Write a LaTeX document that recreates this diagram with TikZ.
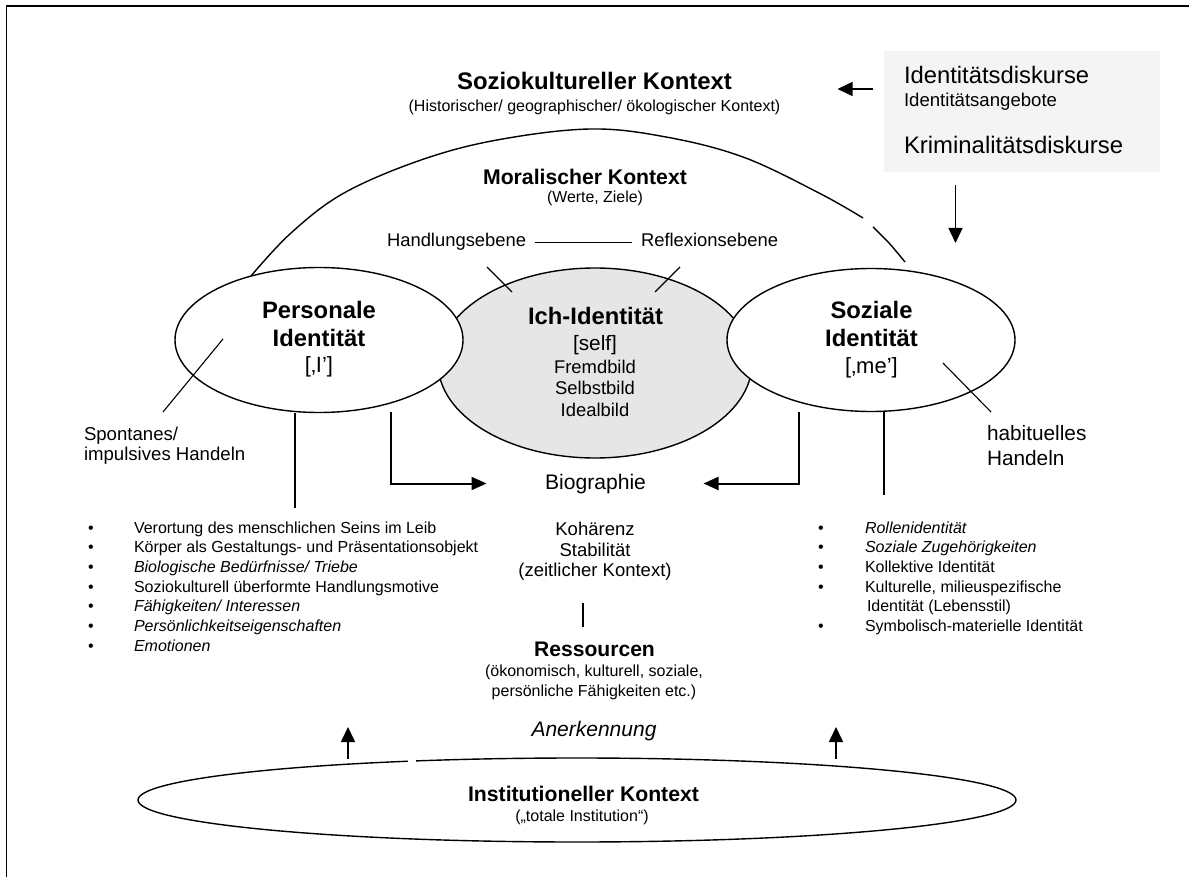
\documentclass[tikz,border=0pt]{standalone}
\usepackage{fontspec}
\setmainfont{Liberation Sans}
\usetikzlibrary{arrows.meta,shapes.geometric}
\definecolor{ichgray}{HTML}{E6E6E6}
\definecolor{boxgray}{HTML}{F4F4F4}
\newcommand\setfs[1]{\fontsize{#1pt}{#1pt}\selectfont}

\begin{document}
\begin{tikzpicture}[x=0.5pt,y=-0.5pt,
  lbl/.style={inner sep=0pt, outer sep=0pt, anchor=base},
  lblw/.style={inner sep=0pt, outer sep=0pt, anchor=base west},
  thinline/.style={line width=0.55pt},
  oval/.style={ellipse, draw, line width=0.7pt, inner sep=0pt, fill=white},
  elbow/.style={line width=1pt, -{Triangle[length=7.5pt,width=6.5pt]}},
  plainarrow/.style={line width=0.75pt, -{Triangle[length=7.5pt,width=7pt]}},
  bul/.style={inner sep=0pt, outer sep=0pt, anchor=base, font=\setfs{8}},
  item/.style={inner sep=0pt, outer sep=0pt, anchor=base west, font=\setfs{8}},
]
\useasboundingbox (0,0) rectangle (1189,877);

% frame (top and left edges)
\draw[line width=0.8pt] (6.5,877) -- (6.5,6) -- (1189,6);

% moral context arc
\draw[line width=0.7pt] plot[smooth, tension=0.6] coordinates
  {(251,276) (291,233) (344,193) (421,160) (497,140) (590,129) (666,137) (743,157) (819,193) (863,218)};
\draw[line width=0.7pt] plot[smooth, tension=0.6] coordinates {(873,227) (889,243) (905,262)};

% identity ellipses
\node[ellipse, draw, line width=0.7pt, fill=ichgray, inner sep=0pt,
      minimum width=157pt, minimum height=95pt] (ich) at (595,363) {};
\node[oval, minimum width=144pt, minimum height=72.5pt] (pers) at (319,340) {};
\node[oval, minimum width=144pt, minimum height=71.5pt] (soz) at (871,340) {};
\node[oval, fill=none, minimum width=439pt, minimum height=42pt] (inst) at (577,800) {};
\fill[white] (408,754) rectangle (416,768);

% sociocultural context
\node[lbl, font=\setfs{11.95}\bfseries] (sozio) at (594.5,89.5) {Soziokultureller Kontext};
\node[lbl, font=\setfs{8}] (soziosub) at (594.5,111.5) {(Historischer/ geographischer/ ökologischer Kontext)};

% discourse box
\node[fill=boxgray, inner sep=0pt, anchor=north west,
      minimum width=138pt, minimum height=60.5pt] (box) at (884,51) {};
\node[lblw, font=\setfs{11.9}] (disk1) at (904,84) {Identitätsdiskurse};
\node[lblw, font=\setfs{9.3}] (disk2) at (904,106.5) {Identitätsangebote};
\node[lblw, font=\setfs{11.95}] (disk3) at (904,154) {Kriminalitätsdiskurse};
\coordinate (aLs) at (873,89);
\coordinate (aLe) at (837.5,89);
\draw[plainarrow] (aLs) -- (aLe);
\coordinate (aDs) at (955.5,185);
\coordinate (aDe) at (955.5,243);
\draw[plainarrow] (aDs) -- (aDe);

% moral context
\node[lbl, font=\setfs{10.6}\bfseries] (moral) at (585,185) {Moralischer Kontext};
\node[lbl, font=\setfs{7.95}] (moralsub) at (595,202.5) {(Werte, Ziele)};

% action / reflection level
\node[lblw, font=\setfs{9.2}, text height=6.7pt, text depth=1.9pt] (handl) at (387,247) {Handlungsebene};
\node[lblw, font=\setfs{9.2}, text height=6.7pt, text depth=1.9pt] (refl) at (641,247) {Reflexionsebene};
\draw[thinline, shorten <=4.5pt, shorten >=4.5pt] (handl) -- (refl);
\coordinate (tHa) at (487,267); \coordinate (tHb) at (512,292);
\coordinate (tRa) at (680,267); \coordinate (tRb) at (655,292);
\draw[thinline] (tHa) -- (tHb);
\draw[thinline] (tRa) -- (tRb);

% ich-identitaet
\node[lbl, font=\setfs{11.9}\bfseries] (ichT) at (595.5,325) {Ich-Identität};
\node[lbl, font=\setfs{10.4}] (ichS) at (595,350.5) {[self]};
\node[lbl, font=\setfs{9.2}] (ichF) at (595,373.3) {Fremdbild};
\node[lbl, font=\setfs{9.2}] (ichSb) at (595,394.3) {Selbstbild};
\node[lbl, font=\setfs{9.2}] (ichI) at (595,416) {Idealbild};

% personale identitaet
\node[lbl, font=\setfs{11.9}\bfseries] (persA) at (319,318.5) {Personale};
\node[lbl, font=\setfs{11.9}\bfseries] (persB) at (319,346.5) {Identität};
\node[lbl, font=\setfs{11}] (persC) at (319,372) {[‚I’]};

% soziale identitaet
\node[lbl, font=\setfs{11.9}\bfseries] (sozA) at (871.5,318.5) {Soziale};
\node[lbl, font=\setfs{11.9}\bfseries] (sozB) at (871.5,346.5) {Identität};
\node[lbl, font=\setfs{11}] (sozC) at (871.5,373) {[‚me’]};

% modes of action
\node[lblw, font=\setfs{9.3}] (spA) at (84,440) {Spontanes/};
\node[lblw, font=\setfs{9.3}] (spB) at (84,460) {impulsives Handeln};
\coordinate (tSa) at (223,339); \coordinate (tSb) at (163,412);
\draw[thinline] (tSa) -- (tSb);
\node[lblw, font=\setfs{10.4}] (haA) at (987,440) {habituelles};
\node[lblw, font=\setfs{10.4}] (haB) at (987,465) {Handeln};
\coordinate (tBa) at (943,363); \coordinate (tBb) at (991,412);
\draw[thinline] (tBa) -- (tBb);

% lines down to the lists
\coordinate (pl) at (295,508);
\coordinate (sl) at (884,495);
\draw[thinline] (pers.south -| pl) -- (pl);
\draw[thinline] (soz.south -| sl) -- (sl);

% biography
\node[lbl, font=\setfs{10.55}] (bio) at (595.5,489) {Biographie};
\coordinate (eLs) at (391,412); \coordinate (eLe) at (486.5,483.5);
\coordinate (eRs) at (799,412); \coordinate (eRe) at (703.5,483.5);
\draw[elbow] (eLs) |- (eLe);
\draw[elbow] (eRs) |- (eRe);
\node[lbl, font=\setfs{9.25}] (koh) at (595,535) {Kohärenz};
\node[lbl, font=\setfs{9.25}] (stab) at (595,556) {Stabilität};
\node[lbl, font=\setfs{9.25}] (zeit) at (595,576.5) {(zeitlicher Kontext)};
\coordinate (rLa) at (583,603); \coordinate (rLb) at (583,627);
\draw[thinline] (rLa) -- (rLb);

% resources
\node[lbl, font=\setfs{10.55}\bfseries] (ress) at (594.5,656.5) {Ressourcen};
\node[lbl, font=\setfs{8}] (ressA) at (594,676.5) {(ökonomisch, kulturell, soziale,};
\node[lbl, font=\setfs{8}] (ressB) at (594,696.5) {persönliche Fähigkeiten etc.)};
\node[lbl, font=\setfs{10.5}\itshape] (anerk) at (594,736.5) {Anerkennung};

% institutional context
\node[lbl, font=\setfs{10.6}\bfseries] (instT) at (583.5,801.5) {Institutioneller Kontext};
\node[lbl, font=\setfs{8}] (instS) at (582,821) {(„totale Institution“)};
\coordinate (uLs) at (348,759); \coordinate (uLe) at (348,727);
\coordinate (uRs) at (836,759); \coordinate (uRe) at (836,727);
\draw[plainarrow] (uLs) -- (uLe);
\draw[plainarrow] (uRs) -- (uRe);

% left list
\foreach \k in {0,...,6} \node[bul] (bl\k) at (91,533+19.7*\k) {•};
\node[item] (l0) at (134,533) {Verortung des menschlichen Seins im Leib};
\node[item] (l1) at (134,552.7) {Körper als Gestaltungs- und Präsentationsobjekt};
\node[item] (l2) at (134,572.4) {\itshape Biologische Bedürfnisse/ Triebe};
\node[item] (l3) at (134,592.1) {Soziokulturell überformte Handlungsmotive};
\node[item] (l4) at (134,611.8) {\itshape Fähigkeiten/ Interessen};
\node[item] (l5) at (134,631.5) {\itshape Persönlichkeitseigenschaften};
\node[item] (l6) at (134,651.2) {\itshape Emotionen};

% right list
\foreach \k in {0,1,2,3,5} \node[bul] (br\k) at (821,533+19.7*\k) {•};
\node[item] (r0) at (865,533) {\itshape Rollenidentität};
\node[item] (r1) at (865,552.7) {\itshape Soziale Zugehörigkeiten};
\node[item] (r2) at (865,572.4) {Kollektive Identität};
\node[item] (r3) at (865,592.1) {Kulturelle, milieuspezifische};
\node[item] (r3b) at (867,611.8) {Identität (Lebensstil)};
\node[item] (r4) at (865,631.5) {Symbolisch-materielle Identität};
\end{tikzpicture}
\end{document}
